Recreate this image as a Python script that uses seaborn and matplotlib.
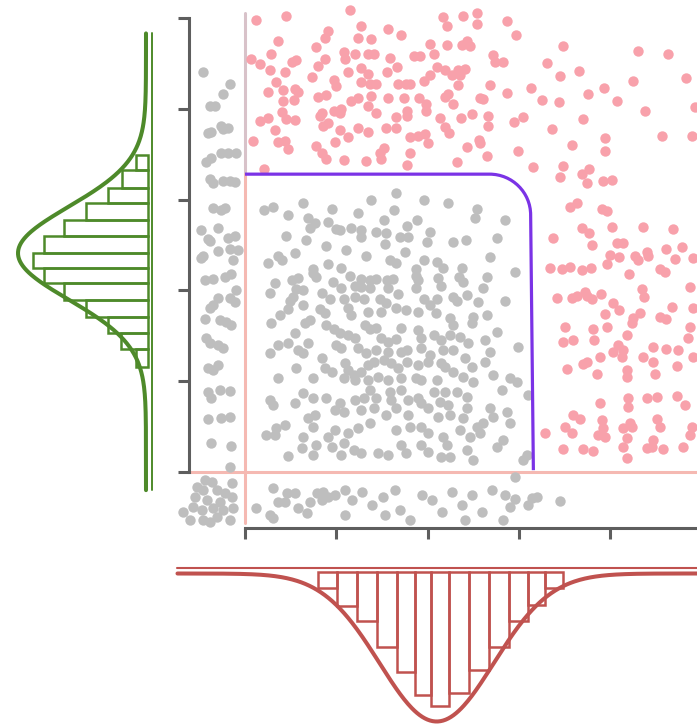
import numpy as np
import pandas as pd
import matplotlib.pyplot as plt
import seaborn as sns
from matplotlib.path import Path
from matplotlib.patches import PathPatch

sns.set_style('ticks')

# colours
GRAY = '#bebebe'
PINK = '#f8a1ab'
LINE_PINK = '#f5b9b2'
PURPLE = '#7b33e6'
GREEN = '#4e8a2a'
RED = '#c0524f'
SPINE = '#5e5e5e'

# scatter points (x, y)
gray_inner = [
    (1.66,3.07),(1.38,3.00),(1.96,3.00),(0.64,2.96),(0.31,2.92),(0.21,2.88),(0.95,2.90),(1.24,2.85),(1.63,2.89),(0.47,2.83),
    (0.69,2.80),(0.77,2.74),(0.71,2.69),(0.91,2.75),(1.00,2.68),(1.04,2.66),(1.16,2.69),(1.27,2.66),(1.52,2.78),(1.43,2.64),
    (1.54,2.63),(1.77,2.71),(1.89,2.77),(2.03,2.64),(1.70,2.59),(1.79,2.59),(1.27,2.59),(0.45,2.60),(0.67,2.56),(1.99,2.53),
    (0.89,2.49),(1.11,2.44),(1.33,2.38),(1.53,2.51),(1.75,2.42),(0.25,2.30),(0.36,2.38),(0.40,2.34),(0.55,2.41),(0.75,2.24),
    (0.91,2.29),(1.05,2.25),(1.59,2.33),(1.66,2.30),(1.87,2.24),(1.96,2.33),(2.10,2.31),
    (0.58,2.14),(0.51,2.11),(0.75,2.19),(0.78,2.15),(0.96,2.09),(1.15,2.16),(1.27,2.13),(1.37,2.11),(1.44,2.13),(1.56,2.11),
    (1.62,2.13),(1.87,2.16),(1.90,2.11),(2.12,2.14),(0.33,2.08),(0.27,1.97),(0.56,2.02),(0.64,2.00),(1.05,2.03),(1.21,2.05),
    (1.27,2.04),(1.37,2.03),(1.57,2.03),(1.87,2.03),(2.15,2.05),
    (0.53,1.93),(0.49,1.88),(0.84,1.97),(0.93,1.91),(1.08,1.91),(1.21,1.93),(1.30,1.91),(1.48,1.91),(1.54,1.86),(1.68,1.96),
    (1.96,1.91),(2.03,1.84),(2.10,1.91),(0.64,1.84),(0.82,1.80),(0.88,1.75),(1.13,1.81),(1.16,1.73),(1.35,1.76),(1.49,1.76),
    (1.66,1.81),(1.76,1.78),(1.90,1.76),(2.09,1.75),(0.47,1.80),(0.38,1.73),(0.29,1.64),
    (0.66,1.64),(0.71,1.67),(0.89,1.62),(0.97,1.58),(1.04,1.53),(1.13,1.51),(1.21,1.48),(1.32,1.62),(1.37,1.58),(1.44,1.59),
    (1.49,1.48),(1.57,1.43),(1.66,1.47),(1.71,1.59),(1.90,1.56),(1.93,1.48),(2.07,1.51),(2.15,1.45),(0.55,1.53),(0.36,1.40),
    (0.47,1.42),(0.58,1.34),(0.64,1.31),(0.69,1.42),(1.00,1.40),(1.05,1.36),(1.24,1.37),(1.33,1.31),(1.44,1.34),(1.57,1.32),
    (1.71,1.32),(1.77,1.34),(1.93,1.37),(2.03,1.29),
    (0.27,1.31),(0.84,1.25),(0.88,1.15),(0.95,1.10),(1.10,1.20),(1.13,1.12),(1.19,1.07),(1.27,1.10),(1.35,1.18),(1.41,1.21),
    (1.52,1.23),(1.60,1.20),(1.68,1.15),(1.77,1.21),(1.90,1.18),(2.01,1.21),(2.15,1.20),(0.56,1.14),(0.36,1.04),(0.75,1.03),
    (1.08,1.04),(1.21,1.01),(1.35,1.01),(1.46,1.05),(1.57,1.01),(1.71,1.03),(1.87,1.04),(1.93,1.01),(2.10,1.01),
    (0.64,0.87),(0.75,0.82),(0.89,0.81),(1.04,0.76),(1.08,0.66),(1.21,0.79),(1.30,0.81),(1.37,0.90),(1.44,0.82),(1.59,0.88),
    (1.60,0.79),(1.71,0.90),(1.79,0.79),(1.90,0.82),(1.93,0.76),(2.07,0.88),(2.14,0.77),(0.27,0.79),(0.31,0.74),(0.55,0.76),
    (0.99,0.68),(1.27,0.68),(1.41,0.71),(1.65,0.71),(2.01,0.70),
    (0.44,0.52),(0.34,0.48),(0.69,0.59),(0.77,0.63),(0.75,0.49),(0.99,0.46),(1.13,0.43),(1.24,0.48),(1.37,0.54),(1.54,0.63),
    (1.66,0.46),(1.79,0.63),(1.81,0.49),(1.93,0.49),(2.01,0.43),(2.12,0.60),(0.23,0.41),(0.33,0.41),(0.64,0.38),(0.91,0.38),
    (0.47,0.18),(0.62,0.26),(0.78,0.30),(0.95,0.27),(1.08,0.32),(1.19,0.24),(1.27,0.21),(1.46,0.21),(1.57,0.19),(1.71,0.30),
    (1.76,0.21),(1.93,0.30),(2.01,0.22),(2.15,0.16),(0.75,0.19),(1.05,0.19),
    (2.22,2.96),(2.54,2.90),(2.52,2.80),(2.85,2.77),(2.28,2.53),(2.42,2.56),(2.76,2.58),(2.68,2.37),(2.17,2.25),(2.38,2.25),
    (2.96,2.20),(2.34,2.15),(2.39,2.09),(2.65,2.15),(2.61,2.03),(2.28,1.93),(2.32,1.88),(2.43,1.95),(2.85,1.88),(2.55,1.87),
    (2.25,1.70),(2.50,1.71),(2.65,1.73),(2.49,1.64),(2.28,1.62),(2.76,1.54),(2.25,1.51),(2.36,1.49),(2.44,1.42),(2.63,1.45),
    (2.68,1.32),(2.99,1.38),(2.17,1.34),(2.28,1.34),(2.41,1.25),(2.63,1.21),(2.19,1.16),(2.49,1.16),(2.28,1.10),(2.39,1.05),
    (2.50,0.99),(2.72,1.07),(2.90,1.04),(2.98,0.99),(2.19,0.88),(2.32,0.88),(2.43,0.83),(2.82,0.90),(2.22,0.74),(2.43,0.71),
    (2.68,0.71),(2.87,0.66),(2.25,0.63),(2.39,0.59),(2.54,0.50),(2.61,0.54),(2.72,0.61),(2.90,0.54),(2.17,0.39),(2.36,0.46),
    (2.47,0.39),(2.58,0.43),(2.21,0.30),(2.43,0.24),(2.76,0.27),(2.83,0.35),(2.50,0.13),(2.25,0.17),(3.05,0.13),(3.09,0.19),
    (3.10,0.85),
]

gray_left = [
    (-0.46,4.41),(-0.16,4.27),(-0.24,4.16),(-0.38,4.03),(-0.33,4.03),(-0.37,3.74),(-0.41,3.73),(-0.26,3.81),(-0.19,3.79),
    (-0.24,3.78),(-0.43,3.41),(-0.37,3.46),(-0.26,3.51),(-0.19,3.51),(-0.10,3.51),(-0.38,3.23),(-0.35,3.18),(-0.24,3.20),
    (-0.16,3.20),(-0.11,3.19),(-0.35,2.91),(-0.26,2.89),(-0.22,2.91),(-0.48,2.66),(-0.30,2.69),(-0.41,2.57),(-0.19,2.58),
    (-0.11,2.60),(-0.38,2.54),(-0.46,2.38),(-0.48,2.36),(-0.30,2.43),(-0.16,2.46),(-0.08,2.45),(-0.13,2.33),(-0.44,2.11),
    (-0.35,2.13),(-0.22,2.15),(-0.15,2.18),(-0.10,2.00),(-0.30,1.92),(-0.16,1.92),(-0.11,1.87),(-0.38,1.81),(-0.35,1.84),
    (-0.44,1.69),(-0.27,1.67),(-0.21,1.65),(-0.15,1.62),(-0.43,1.48),(-0.38,1.42),(-0.30,1.40),(-0.24,1.36),(-0.41,1.14),
    (-0.35,1.12),(-0.30,1.18),(-0.41,0.88),(-0.37,0.82),(-0.27,0.90),(-0.16,0.89),(-0.41,0.58),(-0.26,0.59),(-0.16,0.60),
    (-0.37,0.32),(-0.15,0.29),(-0.16,0.05),
]

gray_below = [
    (-0.44,-0.09),(-0.36,-0.11),(-0.14,-0.12),(-0.53,-0.17),(-0.46,-0.20),(-0.31,-0.20),(-0.22,-0.23),(-0.14,-0.28),
    (-0.55,-0.28),(-0.42,-0.31),(-0.27,-0.33),(-0.13,-0.40),(-0.68,-0.44),(-0.57,-0.39),(-0.47,-0.42),(-0.35,-0.40),
    (-0.24,-0.42),(-0.60,-0.53),(-0.46,-0.53),(-0.31,-0.50),(-0.16,-0.53),(-0.38,-0.55),
    (0.12,-0.40),(0.27,-0.47),(0.31,-0.51),(0.31,-0.18),(0.46,-0.23),(0.55,-0.23),(0.36,-0.33),(0.44,-0.33),(0.58,-0.40),
    (0.68,-0.45),(0.79,-0.23),(0.85,-0.22),(0.71,-0.33),(0.84,-0.31),(0.91,-0.28),
    (0.99,-0.25),(1.10,-0.20),(1.17,-0.31),(1.28,-0.22),(1.39,-0.36),(1.51,-0.28),(1.64,-0.20),(1.70,-0.42),(1.81,-0.53),
    (1.94,-0.25),(2.05,-0.31),(2.16,-0.44),(2.27,-0.22),(2.38,-0.36),(2.49,-0.25),(2.60,-0.44),(2.71,-0.20),(1.53,-0.47),
    (1.10,-0.47),(2.41,-0.53),
    (2.96,-0.06),(2.85,-0.25),(2.96,-0.30),(2.90,-0.39),(3.10,-0.36),(3.15,-0.29),(3.20,-0.28),(3.45,-0.32),(2.83,-0.53),
]

pink_top = [
    (0.12,4.98),(0.45,5.02),(1.15,5.09),(1.27,4.91),(0.91,4.86),(0.88,4.78),(0.36,4.75),(1.24,4.78),(1.38,4.77),(1.57,4.88),
    (1.71,4.81),(0.78,4.68),(1.08,4.62),(1.21,4.60),(1.35,4.60),(1.41,4.60),(1.59,4.56),(1.10,4.55),(1.85,4.58),(1.92,4.58),
    (2.03,4.71),(2.07,4.60),(0.07,4.55),(0.16,4.49),(0.29,4.60),(0.51,4.51),(0.56,4.54),(0.88,4.55),(0.80,4.47),(0.27,4.43),
    (0.44,4.41),(0.73,4.35),(1.13,4.41),(1.27,4.45),(1.35,4.38),(1.56,4.41),(1.67,4.46),(2.10,4.46),(2.03,4.37),(0.34,4.29),
    (0.97,4.32),(1.00,4.25),(1.27,4.29),(1.37,4.27),(1.43,4.27),(1.68,4.27),(1.76,4.27),(1.81,4.27),(1.96,4.31),(0.25,4.18),
    (0.42,4.21),(0.55,4.22),(0.58,4.19),(0.80,4.13),(0.89,4.15),(0.42,4.09),(0.54,4.10),(1.16,4.09),(1.24,4.12),(1.38,4.14),
    (1.57,4.12),(1.74,4.12),(1.91,4.12),(1.98,4.05),(1.35,4.03),(0.40,3.97),(0.84,3.95),(0.97,3.98),(1.05,4.00),(1.04,3.95),
    (1.44,3.95),(1.77,3.98),(1.77,3.92),(1.98,3.98),(1.65,3.91),(0.25,3.90),(0.16,3.86),(0.45,3.89),(0.55,3.88),(0.82,3.92),
    (0.86,3.81),(0.91,3.84),(0.33,3.77),(1.04,3.77),(1.24,3.79),(1.35,3.74),(1.55,3.79),(1.65,3.79),(2.14,3.90),(0.09,3.65),
    (0.36,3.63),(0.44,3.65),(0.47,3.56),(0.78,3.59),(0.99,3.63),(1.13,3.69),(1.81,3.69),(1.90,3.70),(1.97,3.72),(2.00,3.62),
    (0.84,3.51),(0.89,3.45),(1.08,3.44),(1.33,3.43),(1.48,3.51),(1.52,3.57),(1.49,3.45),(1.81,3.51),(1.77,3.38),(0.21,3.34),
    (2.17,5.01),(2.21,4.91),(2.39,5.02),(2.54,5.06),(2.54,4.93),(2.87,4.97),(2.97,4.81),(2.21,4.70),(2.38,4.70),(2.43,4.75),
    (2.47,4.69),(3.48,4.69),(4.31,4.64),(4.64,4.60),(2.72,4.59),(2.74,4.52),(2.83,4.52),(3.31,4.50),(2.19,4.43),(2.27,4.37),
    (2.33,4.43),(2.36,4.37),(2.41,4.44),(3.45,4.36),(3.66,4.42),(4.25,4.31),(4.83,4.34),(2.68,4.26),(2.33,4.26),(2.87,4.17),
    (3.13,4.23),(3.76,4.16),(3.93,4.23),(4.08,4.09),(2.19,4.13),(2.22,4.16),(2.28,4.05),(2.58,4.12),(2.61,4.11),(3.25,4.10),
    (3.44,4.07),(4.38,3.98),(4.93,4.02),(2.19,3.80),(2.24,3.73),(2.37,3.90),(2.49,3.94),(2.66,3.92),(2.66,3.81),(2.95,3.85),
    (3.05,3.91),(3.36,3.78),(3.70,3.89),(4.57,3.70),(4.90,3.70),(2.43,3.58),(2.56,3.66),(2.58,3.62),(2.65,3.48),(2.99,3.54),
    (3.58,3.60),(3.95,3.68),(3.95,3.54),(2.32,3.41),(3.16,3.36),(3.48,3.37),(3.77,3.34),
]

pink_right = [
    (3.45,3.25),(3.69,3.28),(3.75,3.18),(3.92,3.20),(4.02,3.22),(3.56,2.92),(3.64,2.96),(3.91,2.90),(3.97,2.87),(3.38,2.58),
    (3.69,2.69),(3.77,2.63),(3.80,2.50),(4.02,2.70),(4.08,2.52),(4.14,2.52),(4.36,2.70),(4.69,2.68),(3.34,2.25),(3.47,2.24),
    (3.56,2.26),(3.69,2.22),(3.79,2.25),(3.97,2.29),(4.00,2.39),(4.10,2.37),(4.21,2.18),(4.27,2.38),(4.31,2.33),(4.41,2.42),
    (4.42,2.38),(4.61,2.46),(4.71,2.35),(4.79,2.48),(4.55,2.24),(4.60,2.20),(4.91,2.36),(3.42,1.92),(3.58,1.92),(3.64,1.94),
    (3.73,1.98),(3.75,1.94),(3.80,1.91),(3.90,1.96),(4.03,1.86),(4.10,1.78),(3.95,1.74),(3.97,1.60),(4.35,2.02),(4.37,1.93),
    (4.25,1.70),(4.24,1.64),(4.33,1.75),(4.55,1.71),(4.61,1.69),(4.68,1.82),(4.88,2.04),(4.91,1.81),(3.51,1.60),(3.48,1.43),
    (3.59,1.45),(3.81,1.57),(3.82,1.45),(4.03,1.32),(4.09,1.40),(4.13,1.27),(4.19,1.51),(4.14,1.34),(4.36,1.27),(4.47,1.38),
    (4.61,1.35),(4.75,1.34),(4.85,1.48),(4.91,1.27),(3.53,1.13),(3.75,1.21),(3.70,1.19),(3.86,1.08),(3.89,1.27),(4.19,1.12),
    (4.19,1.05),(4.47,1.21),(4.49,1.08),(4.73,1.17),(4.88,1.60),(3.89,0.76),(4.20,0.81),(4.20,0.72),(4.41,0.81),(4.52,0.83),
    (4.73,0.84),(4.82,0.74),(3.59,0.63),(3.67,0.58),(3.51,0.50),(3.58,0.43),(3.91,0.57),(3.92,0.48),(3.87,0.41),(3.95,0.39),
    (4.14,0.48),(4.22,0.54),(4.24,0.50),(4.19,0.37),(4.52,0.58),(4.55,0.50),(4.47,0.35),(4.90,0.50),(4.88,0.41),(3.29,0.43),
    (3.48,0.25),(3.70,0.25),(3.81,0.23),(4.14,0.28),(4.19,0.15),(4.41,0.26),(4.46,0.28),(4.58,0.25),(4.80,0.28),
]

# left marginal histogram (y bins, bottom to top) and its normal curve
green_edges = [1.16, 1.35, 1.53, 1.71, 1.89, 2.08, 2.25, 2.41, 2.60, 2.78, 2.96, 3.13, 3.33, 3.49]
green_counts = [12, 27, 40, 62, 84, 104, 115, 104, 84, 62, 40, 26, 12]
green_mu, green_sd, green_peak = 2.41, 0.51, 128

# bottom marginal histogram (x bins) and its normal curve
red_edges = [0.80, 1.01, 1.23, 1.45, 1.67, 1.86, 2.04, 2.23, 2.45, 2.67, 2.89, 3.10, 3.29, 3.49]
red_counts = [16, 34, 49, 75, 100, 123, 134, 121, 98, 75, 49, 33, 16]
red_mu, red_sd, red_peak = 2.10, 0.625, 148

# boundary corner of the "inside" region
edge_x, edge_y, corner_r = 3.13, 3.28, 0.45

W, H = 697, 726
fig = plt.figure(figsize=(W / 100, H / 100), dpi=100)


def box(x0, y0, x1, y1):
    return [x0 / W, 1 - y1 / H, (x1 - x0) / W, (y1 - y0) / H]


ax = fig.add_axes(box(170, 0, 697, 528))
ax_l = fig.add_axes(box(0, 0, 170, 528), sharey=ax)
ax_b = fig.add_axes(box(170, 555, 697, 726), sharex=ax)

gray = pd.DataFrame(gray_inner + gray_left + gray_below, columns=['x', 'y'])
pink = pd.DataFrame(pink_top + pink_right, columns=['x', 'y'])

# reference lines
ax.plot([0, 0], [edge_y, 5.05], color='#d8c2c9', lw=2.2, zorder=1, clip_on=False)
ax.plot([0, 0], [-0.56, edge_y], color=LINE_PINK, lw=2.2, zorder=1, clip_on=False)
ax.plot([-0.60, 4.96], [0, 0], color=LINE_PINK, lw=2.2, zorder=1, clip_on=False)

sns.scatterplot(data=gray, x='x', y='y', color=GRAY, s=56, linewidth=0, ax=ax, zorder=3, clip_on=False)
sns.scatterplot(data=pink, x='x', y='y', color=PINK, s=56, linewidth=0, ax=ax, zorder=3, clip_on=False)

k = 0.5523
verts = [(0, edge_y), (edge_x - corner_r, edge_y),
         (edge_x - corner_r + k * corner_r, edge_y), (edge_x, edge_y - corner_r + k * corner_r),
         (edge_x, edge_y - corner_r), (edge_x + 0.03, 0.02)]
codes = [Path.MOVETO, Path.LINETO, Path.CURVE4, Path.CURVE4, Path.CURVE4, Path.LINETO]
ax.add_patch(PathPatch(Path(verts, codes), fill=False, edgecolor=PURPLE, lw=2.3, zorder=4))

ax.set_xticks(range(5))
ax.set_yticks(range(6))
ax.set_xticklabels([])
ax.set_yticklabels([])
ax.set_xlabel('')
ax.set_ylabel('')
for s in ['top', 'right']:
    ax.spines[s].set_visible(False)
ax.spines['left'].set_position(('data', -0.614))
ax.spines['left'].set_bounds(0, 5)
ax.spines['bottom'].set_bounds(0, 4.953)
for s in ['left', 'bottom']:
    ax.spines[s].set_linewidth(2.2)
    ax.spines[s].set_color(SPINE)
ax.tick_params(direction='out', length=8, width=2.2, color=SPINE, left=True, bottom=True)

# left marginal
gy = np.linspace(-0.20, 4.83, 400)
gx = 2 + green_peak * np.exp(-0.5 * ((gy - green_mu) / green_sd) ** 2)
green_mid = [(a + b) / 2 for a, b in zip(green_edges[:-1], green_edges[1:])]
sns.histplot(y=green_mid, weights=green_counts, bins=green_edges, fill=False,
             color=GREEN, linewidth=1.8, ax=ax_l)
ax_l.plot([-3.5, -3.5], [-0.20, 4.83], color=GREEN, lw=1.4)
sns.lineplot(x=gx, y=gy, sort=False, estimator=None, color=GREEN, lw=2.9, ax=ax_l)
ax_l.set_xlim(148, -22)
ax_l.set_axis_off()

# bottom marginal
rx = np.linspace(-0.74, 4.953, 400)
ry = 1.5 + red_peak * np.exp(-0.5 * ((rx - red_mu) / red_sd) ** 2)
red_mid = [(a + b) / 2 for a, b in zip(red_edges[:-1], red_edges[1:])]
sns.histplot(x=red_mid, weights=red_counts, bins=red_edges, fill=False,
             color=RED, linewidth=1.8, ax=ax_b)
ax_b.plot([-0.74, 4.953], [-4, -4], color=RED, lw=1.5)
sns.lineplot(x=rx, y=ry, sort=False, estimator=None, color=RED, lw=2.9, ax=ax_b)
ax_b.set_ylim(154, -17)
ax_b.set_axis_off()

ax.set_xlim(-0.822, 4.953)
ax.set_ylim(-0.617, 5.198)

fig.savefig('out.png', dpi=100)
